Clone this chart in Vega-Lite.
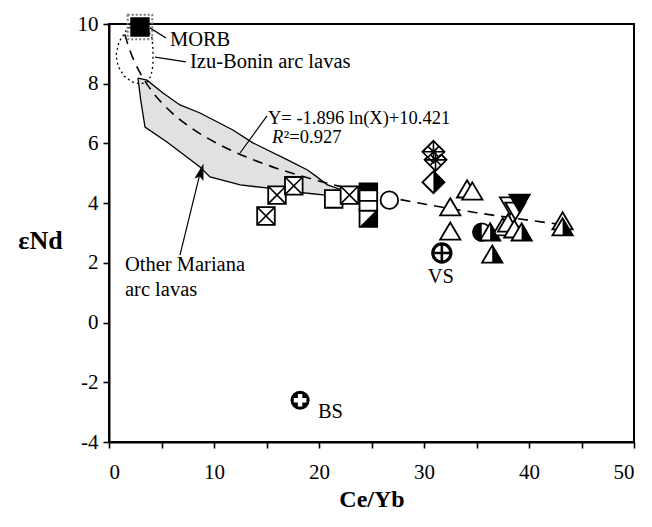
{
  "$schema": "https://vega.github.io/schema/vega-lite/v6.json",
  "width": 525,
  "height": 418,
  "autosize": {"type": "none"},
  "padding": {"left": 109, "top": 24, "right": 18, "bottom": 85},
  "background": "white",
  "config": {
    "view": {"stroke": "black", "strokeWidth": 2},
    "font": "Liberation Serif",
    "axis": {
      "grid": false,
      "domainColor": "black",
      "domainWidth": 2,
      "tickColor": "black",
      "tickWidth": 1.6,
      "tickSize": 6,
      "labelColor": "black",
      "labelFont": "Liberation Serif",
      "labelFontSize": 21,
      "titleFont": "Liberation Serif",
      "titleColor": "black",
      "titleFontWeight": "bold"
    }
  },
  "datasets": {
    "field": [
      {"seq": 1, "x": 2.76, "y": 8.19},
      {"seq": 2, "x": 3.62, "y": 8.12},
      {"seq": 3, "x": 5.14, "y": 7.69},
      {"seq": 4, "x": 6.76, "y": 7.29},
      {"seq": 5, "x": 8.67, "y": 7.02},
      {"seq": 6, "x": 11.8, "y": 6.45},
      {"seq": 7, "x": 13.7, "y": 6.02},
      {"seq": 8, "x": 17.0, "y": 5.45},
      {"seq": 9, "x": 18.9, "y": 5.11},
      {"seq": 10, "x": 19.8, "y": 4.88},
      {"seq": 11, "x": 20.8, "y": 4.61},
      {"seq": 12, "x": 22.2, "y": 4.44},
      {"seq": 13, "x": 22.6, "y": 4.35},
      {"seq": 14, "x": 22.2, "y": 4.3},
      {"seq": 15, "x": 20.6, "y": 4.27},
      {"seq": 16, "x": 18.7, "y": 4.34},
      {"seq": 17, "x": 15.0, "y": 4.51},
      {"seq": 18, "x": 12.5, "y": 4.61},
      {"seq": 19, "x": 9.62, "y": 4.88},
      {"seq": 20, "x": 8.67, "y": 5.21},
      {"seq": 21, "x": 5.52, "y": 6.05},
      {"seq": 22, "x": 3.43, "y": 6.55},
      {"seq": 23, "x": 3.0, "y": 7.5},
      {"seq": 24, "x": 2.76, "y": 8.19}
    ],
    "izu": [
      {"seq": 1, "x": 2.95, "y": 9.93},
      {"seq": 2, "x": 1.81, "y": 9.87},
      {"seq": 3, "x": 0.95, "y": 9.4},
      {"seq": 4, "x": 0.67, "y": 8.96},
      {"seq": 5, "x": 0.86, "y": 8.59},
      {"seq": 6, "x": 1.43, "y": 8.26},
      {"seq": 7, "x": 2.19, "y": 8.06},
      {"seq": 8, "x": 2.95, "y": 7.99},
      {"seq": 9, "x": 3.62, "y": 8.06},
      {"seq": 10, "x": 4.0, "y": 8.26},
      {"seq": 11, "x": 4.19, "y": 8.63},
      {"seq": 12, "x": 4.19, "y": 9.13},
      {"seq": 13, "x": 4.1, "y": 9.53},
      {"seq": 14, "x": 3.71, "y": 9.8},
      {"seq": 15, "x": 2.95, "y": 9.93}
    ],
    "fit": [
      {"x": 1.5, "y": 9.652},
      {"x": 2, "y": 9.107},
      {"x": 2.5, "y": 8.684},
      {"x": 3, "y": 8.338},
      {"x": 4, "y": 7.793},
      {"x": 5, "y": 7.37},
      {"x": 6, "y": 7.024},
      {"x": 8, "y": 6.478},
      {"x": 10, "y": 6.055},
      {"x": 12, "y": 5.71},
      {"x": 15, "y": 5.287},
      {"x": 18, "y": 4.941},
      {"x": 21, "y": 4.649},
      {"x": 25, "y": 4.318},
      {"x": 30, "y": 3.972},
      {"x": 35, "y": 3.68},
      {"x": 40, "y": 3.427},
      {"x": 44, "y": 3.246}
    ],
    "pts": [
      {"x": 14.95, "y": 3.57, "sym": "xsquare"},
      {"x": 16.0, "y": 4.27, "sym": "xsquare"},
      {"x": 17.6, "y": 4.58, "sym": "xsquare"},
      {"x": 21.4, "y": 4.14, "sym": "square"},
      {"x": 22.9, "y": 4.27, "sym": "xsquare"},
      {"x": 24.7, "y": 3.5, "sym": "sqdiag"},
      {"x": 24.7, "y": 4.04, "sym": "square"},
      {"x": 24.7, "y": 4.37, "sym": "sqtop"},
      {"x": 26.7, "y": 4.1, "sym": "circle"},
      {"x": 30.9, "y": 4.7, "sym": "diahalf"},
      {"x": 31.1, "y": 5.45, "sym": "xdiamond"},
      {"x": 30.9, "y": 5.72, "sym": "xdiamond"},
      {"x": 32.5, "y": 3.03, "sym": "tri"},
      {"x": 32.5, "y": 3.84, "sym": "tri"},
      {"x": 34.1, "y": 4.44, "sym": "tri"},
      {"x": 34.6, "y": 4.37, "sym": "tri"},
      {"x": 35.5, "y": 3.03, "sym": "circhalf"},
      {"x": 36.5, "y": 2.26, "sym": "trihalf"},
      {"x": 36.3, "y": 3.0, "sym": "trihalf"},
      {"x": 37.5, "y": 3.17, "sym": "tri"},
      {"x": 38.0, "y": 3.3, "sym": "tri"},
      {"x": 38.2, "y": 3.94, "sym": "tridown"},
      {"x": 38.7, "y": 3.77, "sym": "tridown"},
      {"x": 39.1, "y": 4.03, "sym": "tridownfill"},
      {"x": 38.6, "y": 3.1, "sym": "tri"},
      {"x": 39.3, "y": 3.0, "sym": "trihalf"},
      {"x": 43.2, "y": 3.37, "sym": "tri"},
      {"x": 43.2, "y": 3.17, "sym": "trihalf"},
      {"x": 2.95, "y": 9.9, "sym": "MORB"}
    ],
    "leaders": [
      {"x": 3.9, "y": 9.87, "x2": 5.43, "y2": 9.53},
      {"x": 4.38, "y": 8.89, "x2": 7.33, "y2": 8.73},
      {"x": 15.05, "y": 6.92, "x2": 12.48, "y2": 5.68},
      {"x": 6.76, "y": 2.26, "x2": 8.6, "y2": 4.9}
    ]
  },
  "resolve": {"scale": {"shape": "independent"}},
  "layer": [
    {
      "data": {"name": "field"},
      "mark": {"type": "line", "fill": "#e1e1e1", "stroke": "black", "strokeWidth": 1.3},
      "encoding": {
        "x": {
          "field": "x", "type": "quantitative",
          "scale": {"domain": [0, 50], "nice": false, "zero": false},
          "axis": {
            "values": [0, 5, 10, 15, 20, 25, 30, 35, 40, 45, 50],
            "labelExpr": "datum.value % 10 == 0 ? '' + datum.value : ''",
            "labelPadding": 13,
            "title": "Ce/Yb",
            "titleFontSize": 24,
            "titleY": 64,
            "titleBaseline": "alphabetic"
          }
        },
        "y": {
          "field": "y", "type": "quantitative",
          "scale": {"domain": [-4, 10], "nice": false, "zero": false},
          "axis": {
            "values": [-4, -3, -2, -1, 0, 1, 2, 3, 4, 5, 6, 7, 8, 9, 10],
            "labelExpr": "datum.value % 2 == 0 ? '' + datum.value : ''",
            "labelPadding": 5,
            "title": "εNd",
            "titleFontSize": 26,
            "titleAngle": 0,
            "titleX": -69,
            "titleY": 216,
            "titleAlign": "center",
            "titleBaseline": "middle"
          }
        },
        "order": {"field": "seq", "type": "quantitative"}
      }
    },
    {
      "data": {"name": "izu"},
      "mark": {"type": "line", "stroke": "black", "strokeWidth": 1.3, "strokeDash": [2, 3]},
      "encoding": {
        "x": {"field": "x", "type": "quantitative"},
        "y": {"field": "y", "type": "quantitative"},
        "order": {"field": "seq", "type": "quantitative"}
      }
    },
    {
      "data": {"name": "fit"},
      "mark": {"type": "line", "stroke": "black", "strokeWidth": 1.6, "strokeDash": [10, 7], "interpolate": "monotone"},
      "encoding": {
        "x": {"field": "x", "type": "quantitative"},
        "y": {"field": "y", "type": "quantitative"}
      }
    },
    {
      "data": {"name": "leaders"},
      "mark": {"type": "rule", "stroke": "black", "strokeWidth": 1.2},
      "encoding": {
        "x": {"field": "x", "type": "quantitative"},
        "y": {"field": "y", "type": "quantitative"},
        "x2": {"field": "x2"},
        "y2": {"field": "y2"}
      }
    },
    {
      "data": {"values": [{"x": 8.72, "y": 4.98}]},
      "mark": {"type": "point", "shape": "M0,-1.6L0.7,0.9L0,0.4L-0.7,0.9Z", "filled": true, "color": "black", "size": 180, "angle": 16, "opacity": 1},
      "encoding": {
        "x": {"field": "x", "type": "quantitative"},
        "y": {"field": "y", "type": "quantitative"}
      }
    },
    {
      "data": {"values": [{"x": 2.95, "y": 9.9}]},
      "mark": {"type": "point", "shape": "square", "filled": false, "stroke": "#7a7a7a", "strokeWidth": 2, "strokeDash": [2, 2], "size": 600, "opacity": 1},
      "encoding": {
        "x": {"field": "x", "type": "quantitative"},
        "y": {"field": "y", "type": "quantitative"}
      }
    },
    {
      "data": {"name": "pts"},
      "mark": {"type": "point", "filled": true, "fill": "white", "stroke": "black", "strokeWidth": 1.8, "size": 310, "opacity": 1},
      "encoding": {
        "x": {"field": "x", "type": "quantitative"},
        "y": {"field": "y", "type": "quantitative"},
        "shape": {
          "field": "sym", "type": "nominal", "legend": null,
          "scale": {
            "domain": ["xsquare", "square", "sqtop", "sqdiag", "circle", "circhalf", "xdiamond", "diahalf", "tri", "trihalf", "tridown", "tridownfill", "MORB"],
            "range": [
              "M-1,-1L1,-1L1,1L-1,1Z",
              "M-1,-1L1,-1L1,1L-1,1Z",
              "M-1,-1L1,-1L1,1L-1,1Z",
              "M-1,-1L1,-1L1,1L-1,1Z",
              "circle",
              "circle",
              "M0,-1.25L1.25,0L0,1.25L-1.25,0Z",
              "M0,-1.25L1.25,0L0,1.25L-1.25,0Z",
              "M0,-1.1L1.15,0.85L-1.15,0.85Z",
              "M0,-1.1L1.15,0.85L-1.15,0.85Z",
              "M0,1.1L1.15,-0.85L-1.15,-0.85Z",
              "M0,1.1L1.15,-0.85L-1.15,-0.85Z",
              "M-1,-1L1,-1L1,1L-1,1Z"
            ]
          }
        }
      }
    },
    {
      "data": {"name": "pts"},
      "transform": [{"filter": {"field": "sym", "oneOf": ["sqtop", "sqdiag", "circhalf", "diahalf", "trihalf", "tridownfill", "MORB"]}}],
      "mark": {"type": "point", "filled": true, "fill": "black", "strokeWidth": 0, "size": 310, "opacity": 1},
      "encoding": {
        "x": {"field": "x", "type": "quantitative"},
        "y": {"field": "y", "type": "quantitative"},
        "shape": {
          "field": "sym", "type": "nominal", "legend": null,
          "scale": {
            "domain": ["sqtop", "sqdiag", "circhalf", "diahalf", "trihalf", "tridownfill", "MORB"],
            "range": [
              "M-1,-1L1,-1L1,-0.1L-1,-0.1Z",
              "M1,-1L1,1L-1,1Z",
              "M0,-1A1,1,0,0,0,0,1Z",
              "M0,-1.25L1.25,0L0,1.25Z",
              "M0,-1.1L1.15,0.85L0,0.85Z",
              "M0,1.1L1.15,-0.85L-1.15,-0.85Z",
              "M-1,-1L1,-1L1,1L-1,1Z"
            ]
          }
        }
      }
    },
    {
      "data": {"name": "pts"},
      "transform": [{"filter": {"field": "sym", "oneOf": ["xsquare", "xdiamond"]}}],
      "mark": {"type": "point", "filled": false, "stroke": "black", "strokeWidth": 1.6, "size": 310, "opacity": 1},
      "encoding": {
        "x": {"field": "x", "type": "quantitative"},
        "y": {"field": "y", "type": "quantitative"},
        "shape": {
          "field": "sym", "type": "nominal", "legend": null,
          "scale": {
            "domain": ["xsquare", "xdiamond"],
            "range": [
              "M-1,-1L1,1M-1,1L1,-1",
              "M-0.62,-0.62L0.62,0.62M-0.62,0.62L0.62,-0.62M0,-1.25L0,1.25M-1.25,0L1.25,0"
            ]
          }
        }
      }
    },
    {
      "data": {"values": [{"x": 31.7, "y": 2.33}]},
      "layer": [
        {
          "mark": {"type": "point", "shape": "circle", "filled": true, "fill": "white", "stroke": "black", "strokeWidth": 3.2, "size": 330, "opacity": 1},
          "encoding": {"x": {"field": "x", "type": "quantitative"}, "y": {"field": "y", "type": "quantitative"}}
        },
        {
          "mark": {"type": "point", "shape": "M0,-1L0,1M-1,0L1,0", "filled": false, "stroke": "black", "strokeWidth": 2.6, "size": 330, "opacity": 1},
          "encoding": {"x": {"field": "x", "type": "quantitative"}, "y": {"field": "y", "type": "quantitative"}}
        }
      ]
    },
    {
      "data": {"values": [{"x": 18.2, "y": -2.6}]},
      "layer": [
        {
          "mark": {"type": "point", "shape": "circle", "filled": true, "fill": "black", "strokeWidth": 0, "size": 360, "opacity": 1},
          "encoding": {"x": {"field": "x", "type": "quantitative"}, "y": {"field": "y", "type": "quantitative"}}
        },
        {
          "mark": {"type": "point", "shape": "M0,-1L0,1M-1,0L1,0", "filled": false, "stroke": "white", "strokeWidth": 4.5, "size": 160, "opacity": 1},
          "encoding": {"x": {"field": "x", "type": "quantitative"}, "y": {"field": "y", "type": "quantitative"}}
        }
      ]
    },
    {
      "data": {"values": [
        {"x": 5.8, "y": 9.46, "label": "MORB"},
        {"x": 7.71, "y": 8.73, "label": "Izu-Bonin arc lavas"},
        {"x": 1.52, "y": 1.93, "label": "Other Mariana"},
        {"x": 1.52, "y": 1.09, "label": "arc lavas"},
        {"x": 19.9, "y": -3.0, "label": "BS"}
      ]},
      "mark": {"type": "text", "align": "left", "baseline": "middle", "font": "Liberation Serif", "fontSize": 20.5, "color": "black"},
      "encoding": {
        "x": {"field": "x", "type": "quantitative"},
        "y": {"field": "y", "type": "quantitative"},
        "text": {"field": "label"}
      }
    },
    {
      "data": {"values": [{"x": 31.6, "y": 1.52, "label": "VS"}]},
      "mark": {"type": "text", "align": "center", "baseline": "middle", "font": "Liberation Serif", "fontSize": 20.5, "color": "black"},
      "encoding": {
        "x": {"field": "x", "type": "quantitative"},
        "y": {"field": "y", "type": "quantitative"},
        "text": {"field": "label"}
      }
    },
    {
      "data": {"values": [
        {"x": 15.14, "y": 6.85, "label": "Y= -1.896 ln(X)+10.421"},
        {"x": 16.65, "y": 6.21, "label": "²=0.927"}
      ]},
      "mark": {"type": "text", "align": "left", "baseline": "middle", "font": "Liberation Serif", "fontSize": 18.5, "color": "black"},
      "encoding": {
        "x": {"field": "x", "type": "quantitative"},
        "y": {"field": "y", "type": "quantitative"},
        "text": {"field": "label"}
      }
    },
    {
      "data": {"values": [{"x": 15.52, "y": 6.21, "label": "R"}]},
      "mark": {"type": "text", "align": "left", "baseline": "middle", "font": "Liberation Serif", "fontSize": 18.5, "fontStyle": "italic", "color": "black"},
      "encoding": {
        "x": {"field": "x", "type": "quantitative"},
        "y": {"field": "y", "type": "quantitative"},
        "text": {"field": "label"}
      }
    }
  ]
}
